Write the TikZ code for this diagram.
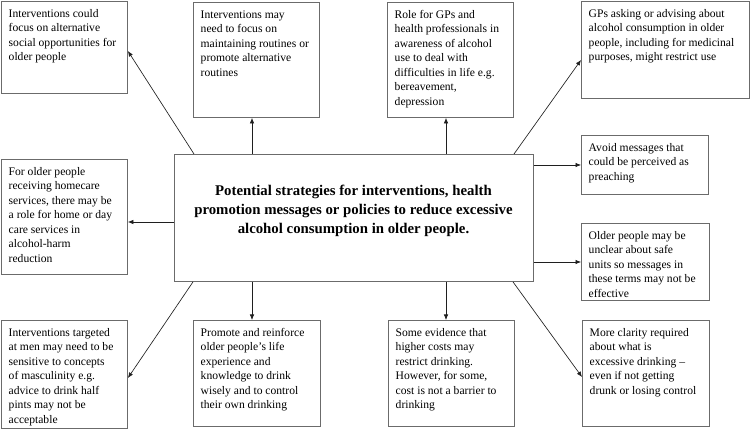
\documentclass[tikz,border=0pt]{standalone}
\usepackage{fontspec}
\setmainfont{Liberation Serif}
\usetikzlibrary{arrows.meta}
\definecolor{boxgray}{gray}{0.42}
\definecolor{arrgray}{gray}{0.12}
\tikzset{
  box/.style={draw=boxgray, line width=0.9pt, anchor=north west, inner sep=0pt, fill=none},
  txt/.style={anchor=north west, inner sep=0pt, align=left, font=\fontsize{11.6}{14.5}\selectfont},
  ctxt/.style={inner sep=0pt, align=center, font=\fontsize{14.8}{19}\selectfont\bfseries},
  arr/.style={draw=arrgray, line width=0.65pt, -{Latex[length=5.5pt,width=4.5pt]}}
}
\newcommand\mkbox[6]{%
  \node[box, minimum width=#4pt, minimum height=#5pt] (#1) at (#2,#3) {};
  \node[txt] (#1t) at ([xshift=7.5pt,yshift=-6pt]#1.north west) {\strut #6};
}
\begin{document}
\begin{tikzpicture}[x=1pt,y=-1pt]
\useasboundingbox (0,0) rectangle (750,438);
\fill[white] (0,0) rectangle (750,438);
% central
\node[box, minimum width=359pt, minimum height=127pt] (c) at (174,154) {};
\node[ctxt] (ct) at (353.5,211) {Potential strategies for interventions, health\\promotion messages or policies to reduce excessive\\alcohol consumption in older people.};
% boxes
\mkbox{b1}{1}{1}{126}{92}{Interventions could\\focus on alternative\\social opportunities for\\older people}
\mkbox{b2}{193}{2}{126}{115}{Interventions may\\need to focus on\\maintaining routines or\\promote alternative\\routines}
\mkbox{b3}{387}{2}{126}{115}{Role for GPs and\\health professionals in\\awareness of alcohol\\use to deal with\\difficulties in life e.g.\\bereavement,\\depression}
\mkbox{b4}{581}{1}{168}{97}{GPs asking or advising about\\alcohol consumption in older\\people, including for medicinal\\purposes, might restrict use}
\mkbox{b5}{1}{159}{126}{115}{For older people\\receiving homecare\\services, there may be\\a role for home or day\\care services in\\alcohol-harm\\reduction}
\mkbox{b6}{581}{135}{127}{59}{Avoid messages that\\could be perceived as\\preaching}
\mkbox{b7}{581}{223}{128}{77}{Older people may be\\unclear about safe\\units so messages in\\these terms may not be\\effective}
\mkbox{b8}{1}{320}{126}{108}{Interventions targeted\\at men may need to be\\sensitive to concepts\\of masculinity e.g.\\advice to drink half\\pints may not be\\acceptable}
\mkbox{b9}{193}{320}{127}{106}{Promote and reinforce\\older people's life\\experience and\\knowledge to drink\\wisely and to control\\their own drinking}
\mkbox{b10}{388}{320}{126}{106}{Some evidence that\\higher costs may\\restrict drinking.\\However, for some,\\cost is not a barrier to\\drinking}
\mkbox{b11}{582}{320}{127}{106}{More clarity required\\about what is\\excessive drinking --\\even if not getting\\drunk or losing control}
% connectors
\draw[arr] ([xshift=20pt]c.north west) -- ([yshift=-50pt]b1.north east);
\draw[arr] ([xshift=78pt]c.north west) -- ([xshift=59pt]b2.south west);
\draw[arr] ([xshift=272pt]c.north west) -- ([xshift=59pt]b3.south west);
\draw[arr] ([xshift=340pt]c.north west) -- ([yshift=-59pt]b4.north west);
\draw[arr] ([yshift=-68pt]c.north west) -- ([yshift=-63pt]b5.north east);
\draw[arr] ([yshift=-11pt]c.north east) -- ([yshift=-30pt]b6.north west);
\draw[arr] ([yshift=-108pt]c.north east) -- ([yshift=-39pt]b7.north west);
\draw[arr] ([xshift=19pt]c.south west) -- ([yshift=-58pt]b8.north east);
\draw[arr] ([xshift=78pt]c.south west) -- ([xshift=59pt]b9.north west);
\draw[arr] ([xshift=272pt]c.south west) -- ([xshift=58pt]b10.north west);
\draw[arr] ([xshift=339pt]c.south west) -- ([yshift=-57pt]b11.north west);
\end{tikzpicture}
\end{document}
